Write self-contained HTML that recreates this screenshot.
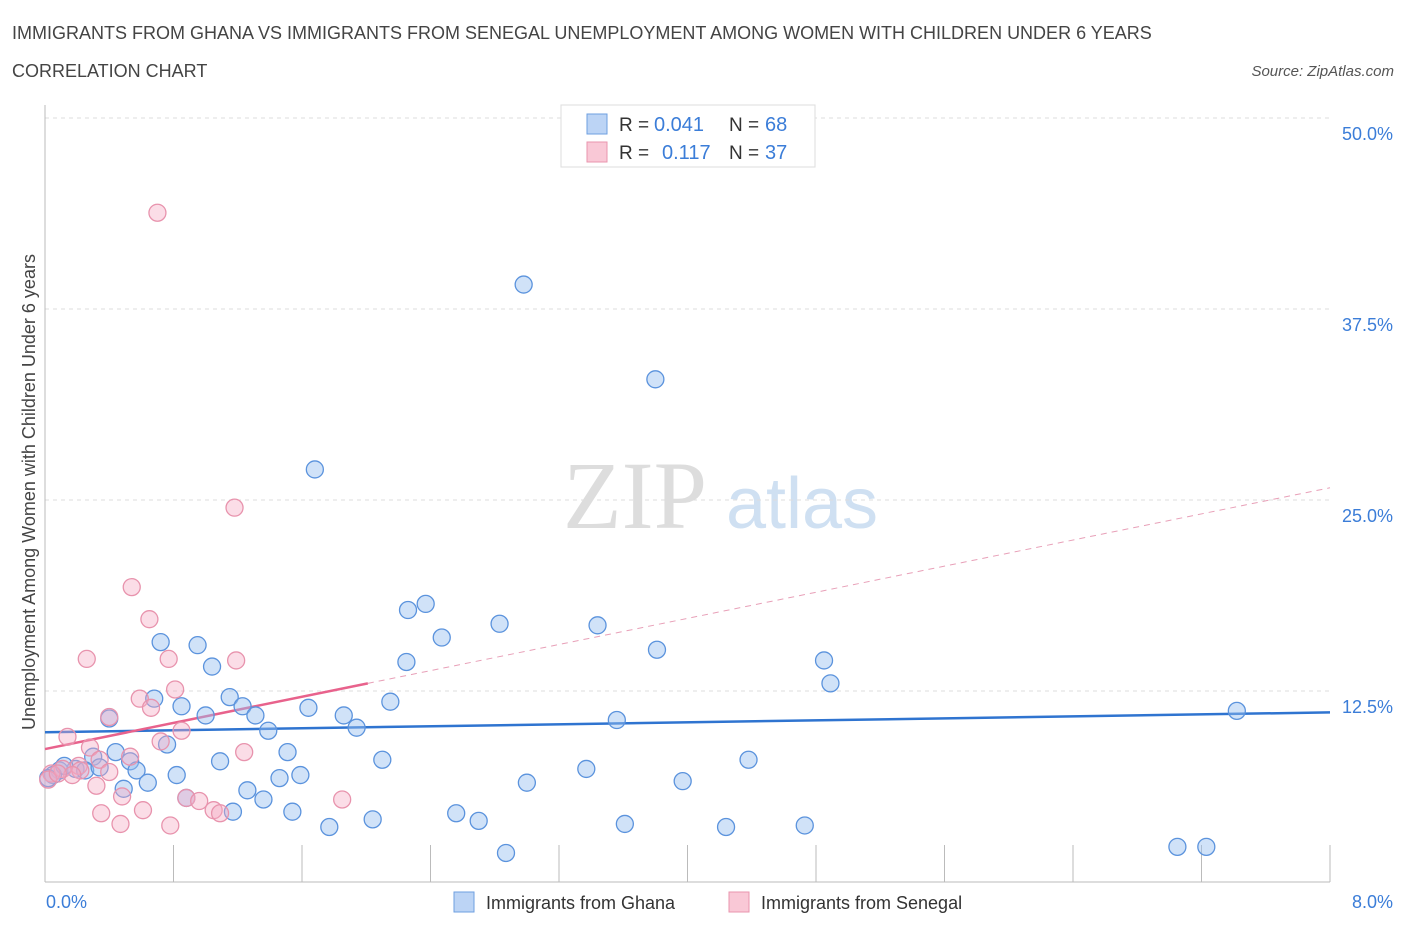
<!DOCTYPE html>
<html><head><meta charset="utf-8"><style>
body{margin:0;background:#fff;width:1406px;height:930px;overflow:hidden;font-family:"Liberation Sans",sans-serif}
</style></head><body>
<svg id="c" width="1406" height="930" xmlns="http://www.w3.org/2000/svg">
<text x="12" y="39" font-size="18" fill="#444">IMMIGRANTS FROM GHANA VS IMMIGRANTS FROM SENEGAL UNEMPLOYMENT AMONG WOMEN WITH CHILDREN UNDER 6 YEARS</text>
<text x="12" y="77" font-size="18" fill="#444">CORRELATION CHART</text>
<text x="1394" y="76" font-size="15" fill="#555" font-style="italic" text-anchor="end">Source: ZipAtlas.com</text>
<text x="635" y="528" font-size="96" fill="#ddd" font-family="Liberation Serif,serif" text-anchor="middle">ZIP</text>
<text x="802" y="528" font-size="72" fill="#cfe0f2" text-anchor="middle">atlas</text>
<g id="grid"></g><g id="axes"></g><g id="trend"></g><g id="pts"></g>
<text x="35" y="492" font-size="18" fill="#444" text-anchor="middle" transform="rotate(-90 35 492)">Unemployment Among Women with Children Under 6 years</text>
<text x="46" y="908" font-size="18" fill="#3b7dd8">0.0%</text>
<text x="1393" y="908" font-size="18" fill="#3b7dd8" text-anchor="end">8.0%</text>
<g>
<rect x="561" y="105" width="254" height="62" fill="#fff" stroke="#ddd"/>
<rect x="587" y="114" width="20" height="20" fill="#bcd4f5" stroke="#6e9fe0"/>
<text x="619" y="131" font-size="19" fill="#333">R =</text>
<text x="654" y="131" font-size="20" fill="#3b7dd8">0.041</text>
<text x="729" y="131" font-size="19" fill="#333">N =</text>
<text x="765" y="131" font-size="20" fill="#3b7dd8">68</text>
<rect x="587" y="142" width="20" height="20" fill="#f9c8d6" stroke="#e995ae"/>
<text x="619" y="159" font-size="19" fill="#333">R =</text>
<text x="662" y="159" font-size="20" fill="#3b7dd8">0.117</text>
<text x="729" y="159" font-size="19" fill="#333">N =</text>
<text x="765" y="159" font-size="20" fill="#3b7dd8">37</text>
</g>
<g>
<rect x="454" y="892" width="20" height="20" fill="#bcd4f5" stroke="#6e9fe0"/>
<text x="486" y="909" font-size="18" fill="#333">Immigrants from Ghana</text>
<rect x="729" y="892" width="20" height="20" fill="#f9c8d6" stroke="#e995ae"/>
<text x="761" y="909" font-size="18" fill="#333">Immigrants from Senegal</text>
</g>
</svg>
<script>
const yTicks=[12.5,25,37.5,50];
const ghanaX=[2.98,3.80,1.68,2.37,2.26,2.83,3.44,2.47,0.72,0.95,3.81,2.25,4.85,1.04,4.89,0.68,0.85,1.15,2.15,1.23,1.64,1.00,1.31,1.86,0.40,1.94,3.56,7.42,1.39,0.76,0.44,1.51,0.30,0.53,2.10,4.38,1.09,0.57,3.37,0.82,1.59,1.46,0.64,3.00,3.97,0.49,1.26,1.36,0.88,1.17,1.54,2.56,2.70,1.77,2.04,3.61,4.24,4.73,2.87,7.05,7.23,0.09,0.19,0.25,0.05,0.34,0.12,0.02];
const ghanaY=[39.1,32.9,27.0,18.2,17.8,16.9,16.8,16.0,15.7,15.5,15.2,14.4,14.5,14.1,13.0,12.0,11.5,12.1,11.8,11.5,11.4,10.9,10.9,10.9,10.7,10.1,10.6,11.2,9.9,9.0,8.5,8.5,8.2,7.9,8.0,8.0,7.9,7.3,7.4,7.0,7.0,6.8,6.5,6.5,6.6,6.1,6.0,5.4,5.5,4.6,4.6,4.5,4.0,3.6,4.1,3.8,3.6,3.7,1.9,2.3,2.3,7.3,7.4,7.3,7.0,7.5,7.6,6.8];
const senX=[0.70,1.18,0.54,0.65,0.26,0.77,1.19,0.59,0.81,0.66,0.40,0.85,0.72,0.14,0.28,1.24,0.53,0.34,0.21,0.11,0.04,0.02,0.32,0.40,0.48,0.88,0.96,1.05,0.61,1.85,0.35,1.09,0.47,0.78,0.22,0.17,0.08];
const senY=[43.8,24.5,19.3,17.2,14.6,14.6,14.5,12.0,12.6,11.4,10.8,9.9,9.2,9.5,8.8,8.5,8.2,8.0,7.6,7.4,7.1,6.7,6.3,7.2,5.6,5.5,5.3,4.7,4.7,5.4,4.5,4.5,3.8,3.7,7.3,7.0,7.1];
const ghanaTrend=[[0,9.8],[8,11.1]];
const senTrendSolid=[[0,8.7],[2.01,13.0]];
const senTrendDash=[[2.01,13.0],[8,25.8]];
const X=v=>45+v/8*1285, Y=v=>882-v/50*764;
const NS="http://www.w3.org/2000/svg";
function mk(t,a,p){const e=document.createElementNS(NS,t);for(const k in a)e.setAttribute(k,a[k]);p.appendChild(e);return e;}
const grid=document.getElementById('grid'),axes=document.getElementById('axes'),trend=document.getElementById('trend'),pts=document.getElementById('pts');
yTicks.forEach(t=>{
 const l=mk('line',{x1:45,x2:1330,y1:Y(t),y2:Y(t),stroke:'#ddd','stroke-dasharray':'4 4'},grid);
 
 
 const tx=mk('text',{x:1393,y:Y(t)+22,'font-size':18,fill:'#3b7dd8','text-anchor':'end'},grid);
 tx.textContent=t.toFixed(1)+'%';
 
 
});
const xa=mk('line',{x1:45,x2:1330,y1:882,y2:882,stroke:'#bbb'},axes);


const ya=mk('line',{x1:45,x2:45,y1:105,y2:882,stroke:'#bbb'},axes);


for(let i=1;i<=10;i++){const tk=mk('line',{x1:X(i*0.8),x2:X(i*0.8),y1:845,y2:882,stroke:'#bbb'},axes);
 
 }
function ln(p,st,dash,name){const l=mk('line',{x1:X(p[0][0]),y1:Y(p[0][1]),x2:X(p[1][0]),y2:Y(p[1][1]),stroke:st,'stroke-width':dash?1:2.5},trend);if(dash)l.setAttribute('stroke-dasharray','6 5');
 
 }
ln(ghanaTrend,'#2f74d0',false,'ghana-trend-line');
ln(senTrendSolid,'#e8628c',false,'senegal-trend-line');
ln(senTrendDash,'#e8a0b8',true,'senegal-trend-extension');
ghanaX.forEach((x,i)=>{const c=mk('circle',{cx:X(x),cy:Y(ghanaY[i]),r:8.5,fill:'rgba(150,190,240,0.45)',stroke:'#5b93dd','stroke-width':1.3},pts);
 
 });
senX.forEach((x,i)=>{const c=mk('circle',{cx:X(x),cy:Y(senY[i]),r:8.5,fill:'rgba(245,170,195,0.4)',stroke:'#e893ad','stroke-width':1.3},pts);
 
 });
</script>
</body></html>
